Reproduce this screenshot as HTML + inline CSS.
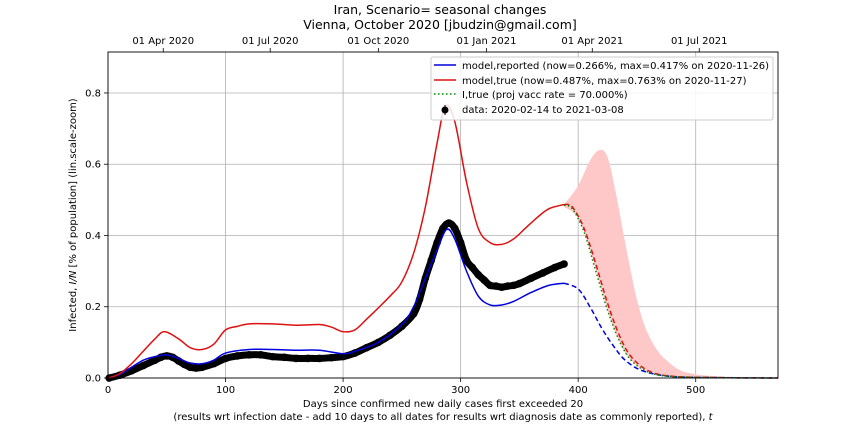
<!DOCTYPE html>
<html><head><meta charset="utf-8"><style>
body{margin:0;background:#fff;font-family:"Liberation Sans","DejaVu Sans",sans-serif}
svg text{font-family:"DejaVu Sans","Liberation Sans",sans-serif;fill:#000}
</style></head><body>
<svg id="c" width="864" height="432" xmlns="http://www.w3.org/2000/svg"></svg>
<script>
const trueDays=[0,10,20,30,40,48,60,70,80,90,100,110,120,140,160,180,190,200,210,220,240,250,260,270,280,287,295,305,315,325,335,345,355,365,375,388];
const trueVals=[0,0.012,0.04,0.075,0.11,0.13,0.11,0.085,0.08,0.095,0.135,0.145,0.152,0.152,0.148,0.15,0.143,0.13,0.135,0.165,0.23,0.27,0.35,0.48,0.66,0.763,0.72,0.55,0.42,0.38,0.375,0.39,0.42,0.45,0.475,0.487];
const trueProjDays=[388,395,405,415,425,435,445,460,480,520,570];
const trueProjVals=[0.487,0.48,0.42,0.32,0.21,0.12,0.06,0.02,0.005,0.001,0];
const repDays=[0,10,20,30,40,50,60,70,80,90,100,120,140,160,180,200,210,230,250,260,270,280,288,295,305,315,325,335,345,360,375,388];
const repVals=[0,0.01,0.03,0.05,0.06,0.065,0.055,0.042,0.04,0.05,0.07,0.08,0.08,0.078,0.078,0.068,0.075,0.1,0.15,0.2,0.28,0.36,0.417,0.39,0.3,0.23,0.205,0.205,0.215,0.24,0.26,0.266];
const repProjDays=[388,400,410,420,430,440,455,480,520,570];
const repProjVals=[0.266,0.25,0.2,0.14,0.09,0.05,0.02,0.004,0.001,0];
const vaccDays=[388,395,405,415,425,435,445,460,480,520,570];
const vaccVals=[0.485,0.475,0.41,0.3,0.19,0.105,0.05,0.016,0.004,0.001,0];
const bandDays=[388,400,410,418,425,432,440,450,460,475,500,570];
const bandHi=[0.487,0.54,0.61,0.64,0.62,0.52,0.38,0.22,0.12,0.05,0.01,0];
const bandLo=[0.48,0.45,0.36,0.27,0.19,0.125,0.07,0.035,0.018,0.006,0.001,0];
const dataDays=[1,10,20,30,40,45,50,55,60,65,70,75,80,90,100,110,120,130,140,150,160,170,180,190,200,210,220,230,240,250,260,265,270,275,280,285,290,295,300,305,310,315,320,325,330,335,340,345,350,360,370,380,388];
const dataVals=[0,0.008,0.02,0.035,0.05,0.058,0.062,0.058,0.048,0.038,0.03,0.028,0.03,0.04,0.055,0.062,0.065,0.065,0.06,0.058,0.055,0.055,0.055,0.057,0.06,0.07,0.085,0.1,0.12,0.145,0.18,0.22,0.28,0.33,0.38,0.42,0.435,0.42,0.38,0.33,0.31,0.29,0.275,0.26,0.258,0.255,0.258,0.26,0.265,0.28,0.295,0.31,0.32];
const xTicks=[0,100,200,300,400,500];
const yTicks=[0,0.2,0.4,0.6,0.8];
const dateLabels=["01 Apr 2020","01 Jul 2020","01 Oct 2020","01 Jan 2021","01 Apr 2021","01 Jul 2021"];
const dateDays=[47,138,230,322,412,503];

const L=108,R=778,T=52,B=378,XMAX=570,YMAX=0.915;
const X=d=>L+(d/XMAX)*(R-L);
const Y=v=>B-(v/YMAX)*(B-T);
const svg=document.getElementById('c');
const NS='http://www.w3.org/2000/svg';
function mk(tag,attrs,parent){const e=document.createElementNS(NS,tag);for(const k in attrs)e.setAttribute(k,attrs[k]);(parent||svg).appendChild(e);return e;}
function pathD(ds,vs){
  const p=ds.map((d,i)=>[X(d),Y(vs[i])]);
  let s='M'+p[0][0]+','+p[0][1];
  for(let i=0;i<p.length-1;i++){
    const p0=p[i-1]||p[i],p1=p[i],p2=p[i+1],p3=p[i+2]||p2;
    const c1x=p1[0]+(p2[0]-p0[0])/6,c1y=p1[1]+(p2[1]-p0[1])/6;
    const c2x=p2[0]-(p3[0]-p1[0])/6,c2y=p2[1]-(p3[1]-p1[1])/6;
    s+=` C${c1x},${c1y} ${c2x},${c2y} ${p2[0]},${p2[1]}`;
  }
  return s;
}
// grid
for(const t of xTicks){
  const g=mk('line',{x1:X(t),x2:X(t),y1:T,y2:B,stroke:'#b0b0b0','stroke-width':0.8});
  
  
  const tk=mk('line',{x1:X(t),x2:X(t),y1:B,y2:B+4,stroke:'#000','stroke-width':0.8});
  const tx=mk('text',{x:X(t),y:B+15,'font-size':10,'text-anchor':'middle'});tx.textContent=t;
  
  
}
for(const t of yTicks){
  const g=mk('line',{x1:L,x2:R,y1:Y(t),y2:Y(t),stroke:'#b0b0b0','stroke-width':0.8});
  
  
  mk('line',{x1:L-4,x2:L,y1:Y(t),y2:Y(t),stroke:'#000','stroke-width':0.8});
  const tx=mk('text',{x:L-7,y:Y(t)+3.5,'font-size':10,'text-anchor':'end'});tx.textContent=t.toFixed(1);
  
  
}
dateDays.forEach((d,i)=>{
  mk('line',{x1:X(d),x2:X(d),y1:T-4,y2:T,stroke:'#000','stroke-width':0.8});
  const tx=mk('text',{x:X(d),y:T-8,'font-size':10,'text-anchor':'middle'});tx.textContent=dateLabels[i];
  
  
});
// band
const bp=pathD(bandDays,bandHi)+' L'+pathD(bandDays.slice().reverse(),bandLo.slice().reverse()).slice(1)+' Z';
const band=mk('path',{d:bp,fill:'#ffc8c8',stroke:'none'});


// data
const dl=mk('path',{d:pathD(dataDays,dataVals),fill:'none',stroke:'#000','stroke-width':7,'stroke-linecap':'round'});


dataDays.forEach((d,i)=>{const c=mk('circle',{cx:X(d),cy:Y(dataVals[i]),r:3.8,fill:'#000'});
  
  });
// lines
function line(ds,vs,col,dash,name,w){const e=mk('path',{d:pathD(ds,vs),fill:'none',stroke:col,'stroke-width':w||1.5});if(dash)e.setAttribute('stroke-dasharray',dash);
  
  }
line(repDays,repVals,'#0000dd',null,'model-reported-line');
line(repProjDays,repProjVals,'#0000dd','5,3','model-reported-projection');
line(trueDays,trueVals,'#dd1111',null,'model-true-line');
line(trueProjDays,trueProjVals,'#dd1111','5,3','model-true-projection');
line(vaccDays,vaccVals,'#008800','1.5,2.5','vacc-true-line');
// axes box
const box=mk('rect',{x:L,y:T,width:R-L,height:B-T,fill:'none',stroke:'#000','stroke-width':0.9});


</script>
<svg width="864" height="432" style="position:absolute;left:0;top:0" xmlns="http://www.w3.org/2000/svg">
<text x="440" y="14" font-size="12.5" text-anchor="middle">Iran, Scenario= seasonal changes</text>
<text x="440" y="29" font-size="12.5" text-anchor="middle">Vienna, October 2020 [jbudzin@gmail.com]</text>
<text x="443" y="407" font-size="10" text-anchor="middle">Days since confirmed new daily cases first exceeded 20</text>
<text x="443" y="420" font-size="10" text-anchor="middle">(results wrt infection date - add 10 days to all dates for results wrt diagnosis date as commonly reported), <tspan font-style="italic">t</tspan></text>
<text transform="translate(76,215) rotate(-90)" font-size="10" text-anchor="middle">Infected, <tspan font-style="italic">I/N</tspan> [% of population] (lin.scale-zoom)</text>
<g>
<rect x="431" y="57" width="342" height="63" rx="2" fill="#fff" fill-opacity="0.85" stroke="#ccc"/>
<line x1="434" y1="65" x2="456" y2="65" stroke="#0000dd" stroke-width="1.5"/>
<text x="462" y="69" font-size="10">model,reported (now=0.266%, max=0.417% on 2020-11-26)</text>
<line x1="434" y1="80" x2="456" y2="80" stroke="#dd1111" stroke-width="1.5"/>
<text x="462" y="84" font-size="10">model,true (now=0.487%, max=0.763% on 2020-11-27)</text>
<line x1="434" y1="94" x2="456" y2="94" stroke="#008800" stroke-width="1.5" stroke-dasharray="1.5,2.5"/>
<text x="462" y="98" font-size="10">I,true (proj vacc rate = 70.000%)</text>
<circle cx="445" cy="110" r="3.5" fill="#000"/>
<line x1="445" y1="105" x2="445" y2="115" stroke="#000"/>
<text x="462" y="113" font-size="10">data: 2020-02-14 to 2021-03-08</text>
</g>
</svg>
</body></html>
